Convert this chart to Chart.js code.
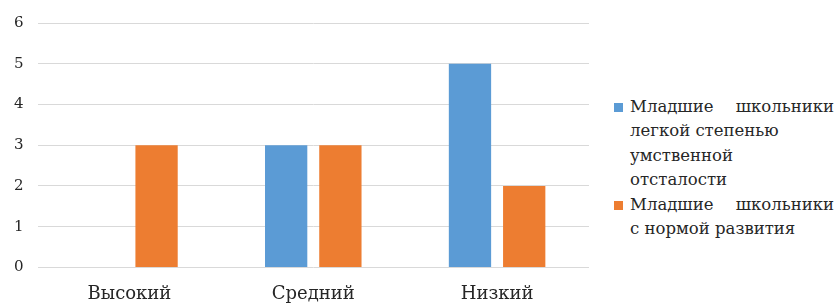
<!DOCTYPE html>
<html>
<head>
<meta charset="utf-8">
<script src="https://cdn.jsdelivr.net/npm/chart.js@4/dist/chart.umd.min.js"></script>
<style>
  body { margin: 0; background: #fff; overflow: hidden; }
  #wrap { position: relative; width: 836px; height: 304px; overflow: hidden; }
  #box { position: absolute; left: 0; top: 0; width: 600px; height: 313px; }
  #legend { position: absolute; left: 614px; top: 95px; font-family: "DejaVu Serif", serif; font-size: 16.5px; color: #262626; line-height: 24.4px; }
  .item { position: relative; padding-left: 16px; }
  .item div { white-space: nowrap; }
  .item div.wide { width: 204px; text-align: justify; text-align-last: justify; }
  .item span.sq { position: absolute; left: 0; top: 8px; width: 9px; height: 9px; }
</style>
</head>
<body>
<div id="wrap">
  <div id="box"><canvas id="c"></canvas></div>
  <div id="legend"></div>
</div>
<script>
// уровни
var levels = ['Высокий', 'Средний', 'Низкий'];
var seriesNames = ['Младшие школьники легкой степенью умственной отсталости', 'Младшие школьники с нормой развития'];
// как перенесены строки в легенде
var legendLines = [
  ['Младшие школьники', 'легкой степенью', 'умственной', 'отсталости'],
  ['Младшие школьники', 'с нормой развития']
];
var lightMR = [0, 3, 5];
var normal = [3, 3, 2];
var colors = ['#5b9bd5', '#ed7d31'];

var font = "'DejaVu Serif', serif";

var chart = new Chart(document.getElementById('c'), {
  type: 'bar',
  data: {
    labels: levels,
    datasets: [
      { label: seriesNames[0], data: lightMR, backgroundColor: colors[0] },
      { label: seriesNames[1], data: normal, backgroundColor: colors[1] }
    ]
  },
  options: {
    responsive: true,
    maintainAspectRatio: false,
    animation: false,
    categoryPercentage: 0.59,
    barPercentage: 0.78,
    layout: { padding: { top: 23, right: 11, left: 0, bottom: 0 } },
    plugins: { legend: { display: false }, tooltip: { enabled: false } },
    scales: {
      x: {
        grid: { display: false },
        border: { display: false },
        ticks: { color: '#262626', font: { family: font, size: 18 }, padding: 8 }
      },
      y: {
        min: 0, max: 6,
        ticks: { stepSize: 1, color: '#262626', font: { family: font, size: 15 }, padding: 14 },
        grid: { color: '#d9d9d9', lineWidth: 1, drawTicks: false },
        border: { display: false }
      }
    }
  }
});

// legend in html so the long names can wrap
var lg = document.getElementById('legend');
legendLines.forEach(function (lines, i) {
  var d = document.createElement('div');
  d.className = 'item';
  d.title = seriesNames[i];
  var h = '<span class="sq" style="background:' + colors[i] + '"></span>';
  lines.forEach(function (t, j) {
    h += '<div' + (j == 0 ? ' class="wide"' : '') + '>' + t + '</div>';
  });
  d.innerHTML = h;
  lg.appendChild(d);
});
</script>
</body>
</html>
